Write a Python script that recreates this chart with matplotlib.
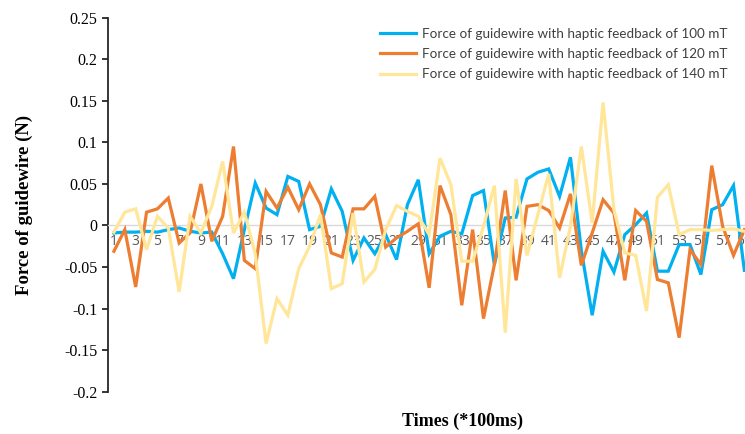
import matplotlib.pyplot as plt
from matplotlib.ticker import MultipleLocator, FixedLocator

# time index (x 100 ms)
times = list(range(1, 60))

force_100mT = [-0.009, -0.008, -0.008, -0.007, -0.008, -0.005, -0.003, -0.007, -0.009, -0.008,
               -0.034, -0.064, -0.005, 0.051, 0.021, 0.013, 0.059, 0.053, -0.005, -0.001,
               0.044, 0.017, -0.042, -0.015, -0.034, -0.011, -0.041, 0.025, 0.055, -0.034,
               -0.013, -0.007, -0.010, 0.036, 0.042, -0.047, 0.009, 0.010, 0.056, 0.064,
               0.068, 0.035, 0.082, -0.030, -0.108, -0.031, -0.056, -0.011, 0.001, 0.015,
               -0.055, -0.055, -0.023, -0.023, -0.059, 0.019, 0.025, 0.048, -0.054]

force_120mT = [-0.031, -0.005, -0.074, 0.016, 0.020, 0.033, -0.021, -0.009, 0.050, -0.019,
               0.011, 0.095, -0.042, -0.052, 0.041, 0.021, 0.046, 0.019, 0.050, 0.025,
               -0.033, -0.038, 0.020, 0.020, 0.035, -0.026, -0.015, -0.007, 0.002, -0.075,
               0.048, 0.013, -0.096, -0.005, -0.112, -0.047, 0.042, -0.066, 0.023, 0.025,
               0.018, -0.003, 0.038, -0.048, -0.009, 0.031, 0.015, -0.066, 0.018, 0.005,
               -0.065, -0.069, -0.135, -0.029, -0.047, 0.072, -0.001, -0.036, -0.005]

force_140mT = [-0.008, 0.016, 0.020, -0.029, 0.011, -0.003, -0.080, 0.011, -0.009, 0.023,
               0.077, -0.009, 0.016, -0.034, -0.142, -0.088, -0.108, -0.052, -0.025, 0.013,
               -0.076, -0.070, 0.015, -0.068, -0.053, -0.005, 0.024, 0.017, 0.011, -0.011,
               0.081, 0.049, -0.043, -0.043, -0.001, 0.048, -0.129, 0.056, -0.036, 0.013,
               0.062, -0.063, -0.001, 0.095, 0.003, 0.148, 0.019, -0.033, -0.036, -0.103,
               0.034, 0.049, -0.011, -0.005, -0.005, -0.006, -0.005, -0.004, -0.007]

labels = ['Force of guidewire with haptic feedback of 100 mT',
          'Force of guidewire with haptic feedback of 120 mT',
          'Force of guidewire with haptic feedback of 140 mT']
colors = ['#00B0F0', '#ED7D31', '#FFE699']

fig = plt.figure(figsize=(7.45, 4.34), dpi=100)
ax = fig.add_axes([108.5 / 745, 1 - 391.7 / 434, 641.3 / 745, 374.0 / 434])

for series, lab, col in zip([force_100mT, force_120mT, force_140mT], labels, colors):
    ax.plot(times, series, color=col, linewidth=2.3, label=lab, zorder=3,
            solid_joinstyle='miter')

ax.set_xlim(0.5, 59.5)
ax.set_ylim(-0.2, 0.25)
ax.yaxis.set_major_locator(MultipleLocator(0.05))
ax.set_yticklabels([f'{v:g}' for v in ax.get_yticks()])
ax.xaxis.set_major_locator(FixedLocator(times[::2]))

for s in ['top', 'right']:
    ax.spines[s].set_visible(False)
ax.spines['left'].set_color('#262626')
ax.spines['left'].set_linewidth(1.3)
ax.spines['bottom'].set_position(('data', 0))
ax.spines['bottom'].set_color('#D9D9D9')
ax.spines['bottom'].set_linewidth(1.0)

ax.tick_params(axis='y', direction='out', length=4, width=1.3, color='#262626',
               labelsize=11.5, pad=4)
for t in ax.get_yticklabels():
    t.set_fontfamily('Liberation Serif')
ax.tick_params(axis='x', length=0, pad=6, labelsize=10, labelcolor='#595959')
for t in ax.get_xticklabels():
    t.set_fontfamily('Open Sans')

fig.text(24 / 745, 1 - 205 / 434, 'Force of guidewire (N)', rotation=90,
         ha='center', va='center', fontsize=13.5, fontweight='bold',
         family='Liberation Serif')
fig.text(463 / 745, 1 - 421 / 434, 'Times (*100ms)', ha='center', va='center',
         fontsize=13, fontweight='bold', family='Liberation Serif')

leg = ax.legend(loc='upper right', bbox_to_anchor=(740 / 745, 1 - 16 / 434),
                bbox_transform=fig.transFigure, frameon=False,
                prop={'family': 'Lato', 'size': 9.7}, handlelength=2.6,
                handletextpad=0.5, labelspacing=0.6, labelcolor='#404040')

fig.savefig('out.png', dpi=100)
